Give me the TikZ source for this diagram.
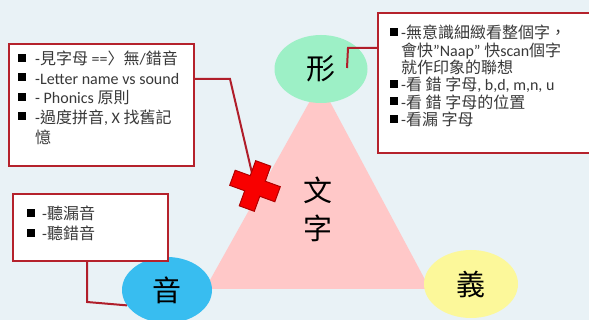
\documentclass[tikz,border=0pt]{standalone}
\usepackage{fontspec}
\setmainfont{Carlito}
\newfontfamily\cjk{Noto Sans CJK TC}
\usetikzlibrary{shapes.geometric,calc}
\definecolor{bgc}{HTML}{E9F2F6}
\definecolor{tri}{HTML}{FFC8C8}
\definecolor{gre}{HTML}{9DF0C6}
\definecolor{blu}{HTML}{38BDF0}
\definecolor{yel}{HTML}{FCF89A}
\definecolor{brd}{HTML}{B5222C}
\definecolor{lnk}{HTML}{B01E2A}
\definecolor{xr}{HTML}{F80000}
\definecolor{xd}{HTML}{B00000}
\definecolor{txc}{HTML}{383838}
\newcommand\zh[1]{{\cjk #1}}
\newcommand\bq{\textcolor{black}{\rule[3.2pt]{8pt}{8pt}}}
\tikzset{
  ell/.style={ellipse, inner sep=0pt, font=\cjk\fontsize{29}{29}\selectfont, text=black},
  boxst/.style={rectangle, draw=brd, line width=2pt, fill=white, inner sep=0pt},
  lnkst/.style={draw=lnk, line width=2pt},
  txt/.style={inner sep=0pt, anchor=north west, align=left, text=txc},
}
\begin{document}
\begin{tikzpicture}[x=1pt, y=-1pt]
\useasboundingbox (0,0) rectangle (589,320);
\fill[bgc] (0,0) rectangle (589,320);
% triangle
\fill[tri] (320,83) -- (205,289) -- (430,289) -- cycle;
% ellipses
\node[ell, fill=gre, minimum width=93pt, minimum height=68pt] (xing) at (321,69) {形};
\node[ell, fill=blu, minimum width=90pt, minimum height=66pt] (yin) at (167,290) {音};
\node[ell, fill=yel, minimum width=94pt, minimum height=68pt] (yi) at (471,284) {義};
% connectors
\coordinate (k1) at (230,79);
\coordinate (xm) at (255,186);
\coordinate (k2) at (348,48);
\coordinate (k2e) at (347,68);
\coordinate (k3) at (87,302);
% boxes
\node[boxst, minimum width=185pt, minimum height=122pt, anchor=north west] (b1) at (8,43) {};
\node[boxst, minimum width=215pt, minimum height=140pt, anchor=north west] (b2) at (377,12) {};
\node[boxst, minimum width=155pt, minimum height=67pt, anchor=north west] (b3) at (12,193) {};
\draw[lnkst] (b1.east |- k1) -- (k1) -- (xm);
\draw[lnkst] (b2.west |- k2) -- (k2) -- (k2e);
\draw[lnkst] (b3.south -| k3) -- (k3) -- (yin.201);
% red cross
\begin{scope}[shift={(xm)}, rotate=-20]
\filldraw[fill=xr, draw=xd, line width=1pt, line join=miter]
  (-24,-8) -- (-8,-8) -- (-8,-24) -- (8,-24) -- (8,-8) -- (24,-8)
  -- (24,8) -- (8,8) -- (8,24) -- (-8,24) -- (-8,8) -- (-24,8) -- cycle;
\end{scope}
% centre text
\node[font=\cjk\fontsize{29}{38}\selectfont, align=center, text=black] (wenzi) at (318,209) {文\\字};
% box texts
\node[txt, font=\fontsize{16}{19.6}\selectfont] (t1) at (18,51) {%
\makebox[17pt][l]{\bq}-\zh{見字母} ==\zh{〉}\zh{無}/\zh{錯音}\\
\makebox[17pt][l]{\bq}-Letter name vs sound\\
\makebox[17pt][l]{\bq}- Phonics \zh{原則}\\
\makebox[17pt][l]{\bq}-\zh{過度拼音}, X \zh{找舊記}\\
\hspace*{17pt}\zh{憶}};
\node[txt, font=\fontsize{16}{17.4}\selectfont] (t2) at (390,25) {%
\makebox[11pt][l]{\bq}-\zh{無意識細緻看整個字，}\\
\hspace*{11pt}\zh{會快}”Naap” \zh{快}scan\zh{個字}\\
\hspace*{11pt}\zh{就作印象的聯想}\\
\makebox[11pt][l]{\bq}-\zh{看 錯 字母}, b,d, m,n, u\\
\makebox[11pt][l]{\bq}-\zh{看 錯 字母的位置}\\
\makebox[11pt][l]{\bq}-\zh{看漏 字母}};
\node[txt, font=\fontsize{16}{20}\selectfont] (t3) at (27,206) {%
\makebox[15pt][l]{\bq}-\zh{聽漏音}\\
\makebox[15pt][l]{\bq}-\zh{聽錯音}};
\end{tikzpicture}
\end{document}
